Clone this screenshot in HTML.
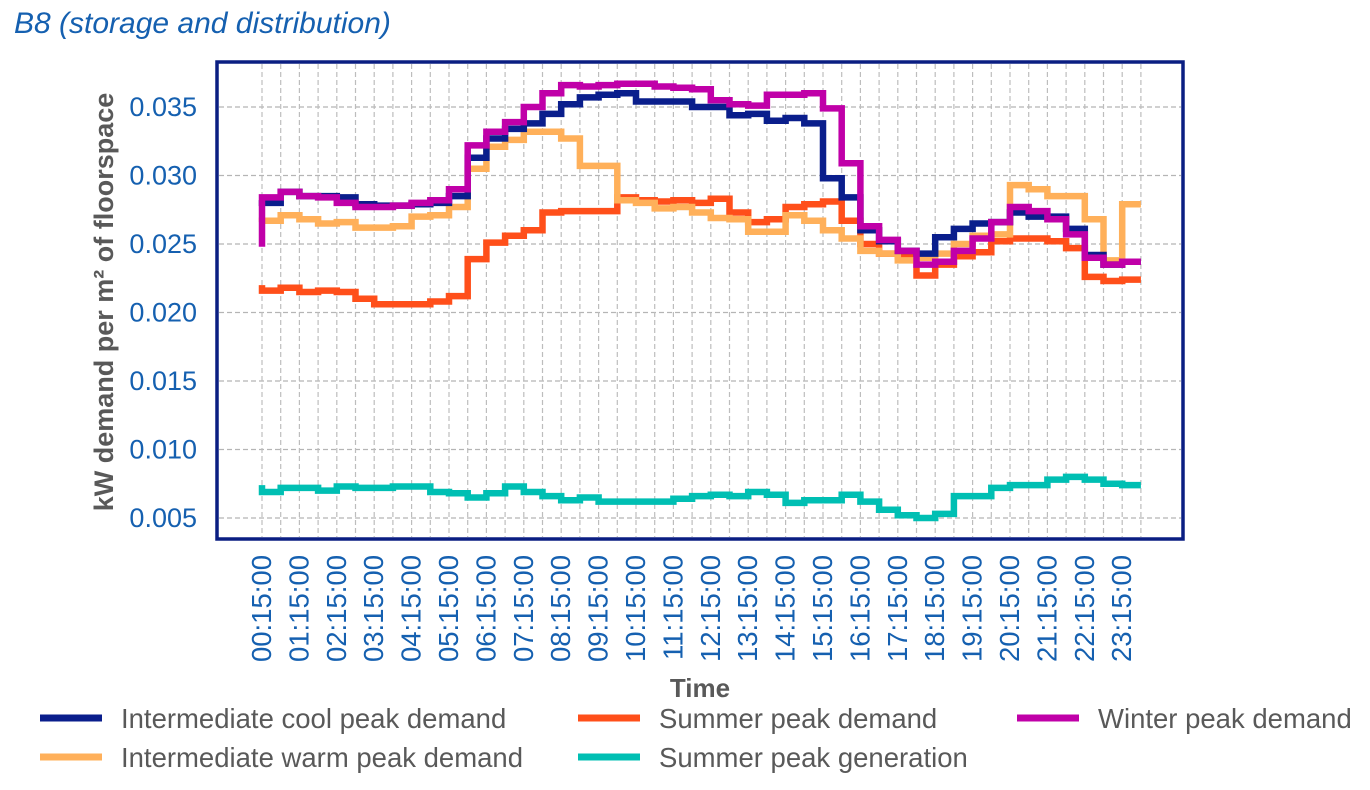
<!DOCTYPE html>
<html><head><meta charset="utf-8"><style>
body{margin:0;background:#fff;width:1370px;height:790px;overflow:hidden;font-family:"Liberation Sans",sans-serif}
svg{display:block}
</style></head><body>
<svg id="chart" width="1370" height="790" xmlns="http://www.w3.org/2000/svg">
<text x="14" y="33" font-size="30" font-style="italic" fill="#1560b0">B8 (storage and distribution)</text>
<g id="grid"></g>
<g id="yticks"></g>
<g id="xticks"></g>
<g id="series"></g>
<rect x="217" y="62" width="966" height="477" fill="none" stroke="#0a1e82" stroke-width="3.5"/>
<text transform="translate(113,302) rotate(-90)" text-anchor="middle" font-size="27" font-weight="bold" fill="#595959">kW demand per m² of floorspace</text>
<text x="700" y="697" text-anchor="middle" font-size="26" font-weight="bold" fill="#595959">Time</text>
<g id="legend"></g>
</svg>
<script>
const timeLabels=["00:15:00","01:15:00","02:15:00","03:15:00","04:15:00","05:15:00","06:15:00","07:15:00","08:15:00","09:15:00","10:15:00","11:15:00","12:15:00","13:15:00","14:15:00","15:15:00","16:15:00","17:15:00","18:15:00","19:15:00","20:15:00","21:15:00","22:15:00","23:15:00"];
const yTicks=[0.005,0.010,0.015,0.020,0.025,0.030,0.035];
const seriesNames=["Intermediate cool peak demand","Summer peak demand","Winter peak demand","Intermediate warm peak demand","Summer peak generation"];
const coolVals=[0.0282,0.0280,0.0288,0.0285,0.0285,0.0284,0.0279,0.0278,0.0278,0.0279,0.0280,0.0285,0.0313,0.0327,0.0334,0.0338,0.0345,0.0352,0.0357,0.0359,0.0360,0.0354,0.0354,0.0354,0.0350,0.0350,0.0344,0.0345,0.0340,0.0342,0.0338,0.0298,0.0284,0.0260,0.0252,0.0245,0.0243,0.0255,0.0261,0.0265,0.0266,0.0273,0.0270,0.0270,0.0261,0.0242,0.0235,0.0237];
const summerVals=[0.0220,0.0216,0.0218,0.0215,0.0216,0.0215,0.0210,0.0206,0.0206,0.0206,0.0208,0.0212,0.0239,0.0251,0.0256,0.0260,0.0273,0.0274,0.0274,0.0274,0.0284,0.0282,0.0281,0.0282,0.0280,0.0283,0.0273,0.0266,0.0268,0.0277,0.0279,0.0281,0.0267,0.0250,0.0243,0.0241,0.0227,0.0235,0.0241,0.0244,0.0252,0.0254,0.0254,0.0252,0.0247,0.0226,0.0223,0.0224];
const winterVals=[0.0248,0.0284,0.0288,0.0285,0.0284,0.0280,0.0277,0.0277,0.0278,0.0280,0.0282,0.0290,0.0322,0.0332,0.0339,0.0350,0.0360,0.0366,0.0365,0.0366,0.0367,0.0367,0.0365,0.0364,0.0363,0.0355,0.0352,0.0351,0.0359,0.0359,0.0360,0.0349,0.0309,0.0263,0.0253,0.0245,0.0235,0.0237,0.0245,0.0254,0.0266,0.0277,0.0274,0.0268,0.0257,0.0240,0.0235,0.0237];
const warmVals=[0.0266,0.0267,0.0271,0.0268,0.0265,0.0266,0.0262,0.0262,0.0263,0.0270,0.0271,0.0277,0.0305,0.0321,0.0326,0.0332,0.0332,0.0327,0.0307,0.0307,0.0282,0.0280,0.0276,0.0277,0.0273,0.0269,0.0268,0.0259,0.0259,0.0271,0.0267,0.0260,0.0254,0.0245,0.0243,0.0238,0.0240,0.0243,0.0250,0.0256,0.0257,0.0293,0.0290,0.0285,0.0285,0.0268,0.0238,0.0279];
const genVals=[0.0074,0.0069,0.0072,0.0072,0.0070,0.0073,0.0072,0.0072,0.0073,0.0073,0.0069,0.0068,0.0065,0.0068,0.0073,0.0069,0.0066,0.0063,0.0065,0.0062,0.0062,0.0062,0.0062,0.0064,0.0066,0.0067,0.0066,0.0069,0.0067,0.0061,0.0063,0.0063,0.0067,0.0062,0.0056,0.0052,0.0050,0.0053,0.0066,0.0066,0.0072,0.0074,0.0074,0.0078,0.0080,0.0078,0.0075,0.0074];

const NS="http://www.w3.org/2000/svg";
const X0=262, STEP=18.7;
function xPos(i){return X0+i*STEP;}
function yPos(v){return 107+(0.035-v)/0.005*68.5;}
function mk(tag,attrs,parent){const e=document.createElementNS(NS,tag);for(const k in attrs)e.setAttribute(k,attrs[k]);parent.appendChild(e);return e;}

const grid=document.getElementById('grid');
yTicks.forEach(function(t){
  const l=mk('line',{x1:219,x2:1181,y1:yPos(t),y2:yPos(t),stroke:'#b5b5b5','stroke-width':1.2,'stroke-dasharray':'5,3'},grid);
  
  
});
for(let i=0;i<48;i++){
  const l=mk('line',{x1:xPos(i),x2:xPos(i),y1:64,y2:537,stroke:'#bdbdbd','stroke-width':1.2,'stroke-dasharray':'5,3'},grid);
  
  
}
const yt=document.getElementById('yticks');
yTicks.forEach(function(t){
  const e=mk('text',{x:197,y:yPos(t)+9,'text-anchor':'end','font-size':27,fill:'#1560b0'},yt);
  e.textContent=t.toFixed(3);
  
  
});
const xt=document.getElementById('xticks');
timeLabels.forEach(function(t,i){
  const x=xPos(i*2)+9;
  const e=mk('text',{transform:'translate('+x+',555) rotate(-90)','text-anchor':'end','font-size':27.5,fill:'#1560b0'},xt);
  e.textContent=t;
  
  
});
const sg=document.getElementById('series');
function stepPath(vals){
  let d='M'+xPos(0)+','+yPos(vals[0]);
  for(let i=1;i<vals.length;i++){d+=' V'+yPos(vals[i]).toFixed(1)+' H'+xPos(i).toFixed(1);}
  return d;
}
const drawList=[[genVals,'#00bfb3','series-summer-generation'],[summerVals,'#ff4f1a','series-summer-demand'],[warmVals,'#ffb05a','series-intermediate-warm'],[coolVals,'#0a1e8c','series-intermediate-cool'],[winterVals,'#c000a8','series-winter-demand']];
drawList.forEach(function(s){
  const p=mk('path',{d:stepPath(s[0]),fill:'none',stroke:s[1],'stroke-width':6.5,'stroke-linejoin':'miter'},sg);
  
  
});
const lg=document.getElementById('legend');
const legItems=[[40,718,'#0a1e8c',0],[578,718,'#ff4f1a',1],[1017,718,'#c000a8',2],[40,757,'#ffb05a',3],[578,757,'#00bfb3',4]];
legItems.forEach(function(it){
  const l=mk('line',{x1:it[0],x2:it[0]+62,y1:it[1],y2:it[1],stroke:it[2],'stroke-width':7},lg);
  
  
  const t=mk('text',{x:it[0]+81,y:it[1]+10,'font-size':27.5,fill:'#595959'},lg);
  t.textContent=seriesNames[it[3]];
  
  
});
</script>
</body></html>
